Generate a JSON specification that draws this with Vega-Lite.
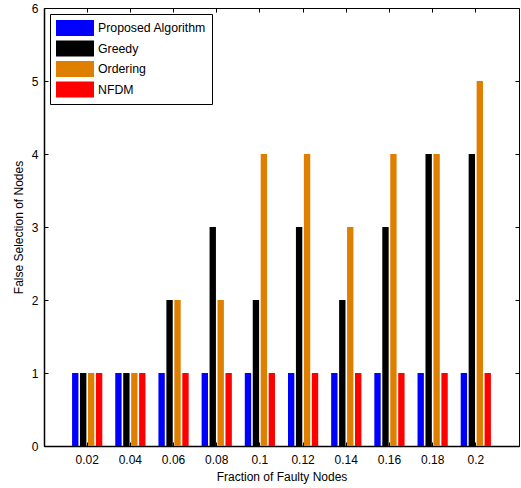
{
  "$schema": "https://vega.github.io/schema/vega-lite/v6.json",
  "width": 475,
  "height": 438,
  "autosize": {"type": "none"},
  "padding": {"left": 44, "top": 8, "right": 2, "bottom": 42},
  "background": "white",
  "config": {
    "font": "Liberation Sans",
    "view": {"stroke": "black", "strokeWidth": 1},
    "axis": {
      "domainColor": "black",
      "domainWidth": 1.5,
      "tickColor": "black",
      "labelColor": "black",
      "titleColor": "black",
      "labelFont": "Liberation Sans",
      "titleFont": "Liberation Sans",
      "labelFontSize": 12,
      "titleFontSize": 12,
      "titleFontWeight": "normal",
      "grid": false
    }
  },
  "data": {
    "values": [
      {"f": "0.02", "s": "Proposed Algorithm", "v": 1},
      {"f": "0.02", "s": "Greedy", "v": 1},
      {"f": "0.02", "s": "Ordering", "v": 1},
      {"f": "0.02", "s": "NFDM", "v": 1},
      {"f": "0.04", "s": "Proposed Algorithm", "v": 1},
      {"f": "0.04", "s": "Greedy", "v": 1},
      {"f": "0.04", "s": "Ordering", "v": 1},
      {"f": "0.04", "s": "NFDM", "v": 1},
      {"f": "0.06", "s": "Proposed Algorithm", "v": 1},
      {"f": "0.06", "s": "Greedy", "v": 2},
      {"f": "0.06", "s": "Ordering", "v": 2},
      {"f": "0.06", "s": "NFDM", "v": 1},
      {"f": "0.08", "s": "Proposed Algorithm", "v": 1},
      {"f": "0.08", "s": "Greedy", "v": 3},
      {"f": "0.08", "s": "Ordering", "v": 2},
      {"f": "0.08", "s": "NFDM", "v": 1},
      {"f": "0.1", "s": "Proposed Algorithm", "v": 1},
      {"f": "0.1", "s": "Greedy", "v": 2},
      {"f": "0.1", "s": "Ordering", "v": 4},
      {"f": "0.1", "s": "NFDM", "v": 1},
      {"f": "0.12", "s": "Proposed Algorithm", "v": 1},
      {"f": "0.12", "s": "Greedy", "v": 3},
      {"f": "0.12", "s": "Ordering", "v": 4},
      {"f": "0.12", "s": "NFDM", "v": 1},
      {"f": "0.14", "s": "Proposed Algorithm", "v": 1},
      {"f": "0.14", "s": "Greedy", "v": 2},
      {"f": "0.14", "s": "Ordering", "v": 3},
      {"f": "0.14", "s": "NFDM", "v": 1},
      {"f": "0.16", "s": "Proposed Algorithm", "v": 1},
      {"f": "0.16", "s": "Greedy", "v": 3},
      {"f": "0.16", "s": "Ordering", "v": 4},
      {"f": "0.16", "s": "NFDM", "v": 1},
      {"f": "0.18", "s": "Proposed Algorithm", "v": 1},
      {"f": "0.18", "s": "Greedy", "v": 4},
      {"f": "0.18", "s": "Ordering", "v": 4},
      {"f": "0.18", "s": "NFDM", "v": 1},
      {"f": "0.2", "s": "Proposed Algorithm", "v": 1},
      {"f": "0.2", "s": "Greedy", "v": 4},
      {"f": "0.2", "s": "Ordering", "v": 5},
      {"f": "0.2", "s": "NFDM", "v": 1}
    ]
  },
  "layer": [
    {
      "mark": {"type": "bar", "cornerRadius": 0},
      "encoding": {
        "x": {
          "field": "f",
          "type": "ordinal",
          "sort": null,
          "scale": {"paddingInner": 0.3, "paddingOuter": 0.65},
          "axis": {
            "title": "Fraction of Faulty Nodes",
            "labelAngle": 0,
            "tickSize": -4,
            "labelPadding": 12,
            "titlePadding": 6,
            "domain": true
          }
        },
        "xOffset": {
          "field": "s",
          "type": "nominal",
          "sort": ["Proposed Algorithm", "Greedy", "Ordering", "NFDM"],
          "scale": {"paddingInner": 0.2}
        },
        "y": {
          "field": "v",
          "type": "quantitative",
          "scale": {"domain": [0, 6], "nice": false},
          "axis": {
            "title": "False Selection of Nodes",
            "values": [0, 1, 2, 3, 4, 5, 6],
            "tickSize": -4,
            "labelPadding": 10,
            "titlePadding": 6
          }
        },
        "color": {
          "field": "s",
          "type": "nominal",
          "sort": ["Proposed Algorithm", "Greedy", "Ordering", "NFDM"],
          "scale": {
            "domain": ["Proposed Algorithm", "Greedy", "Ordering", "NFDM"],
            "range": ["#0000FF", "#000000", "#DF7F00", "#FF0000"]
          },
          "legend": {
            "title": null,
            "orient": "top-left",
            "offset": 6,
            "padding": 6,
            "strokeColor": "black",
            "fillColor": "white",
            "symbolType": "M-1,-1L3.75,-1L3.75,1L-1,1Z",
            "symbolSize": 256,
            "symbolStrokeWidth": 0,
            "symbolOpacity": 1,
            "labelOffset": 26,
            "labelFontSize": 12.3,
            "labelFont": "Liberation Sans",
            "labelColor": "black",
            "rowPadding": 4.5,
            "labelLimit": 300
          }
        }
      }
    },
    {
      "mark": {"type": "bar", "opacity": 0},
      "encoding": {
        "x": {
          "field": "f",
          "type": "ordinal",
          "sort": null,
          "axis": {"orient": "top", "title": null, "labels": false, "tickSize": -4, "domain": false}
        },
        "y": {
          "field": "v",
          "type": "quantitative",
          "axis": {"orient": "right", "title": null, "labels": false, "values": [0, 1, 2, 3, 4, 5, 6], "tickSize": -4, "domain": false}
        }
      }
    }
  ],
  "resolve": {"axis": {"x": "independent", "y": "independent"}}
}
